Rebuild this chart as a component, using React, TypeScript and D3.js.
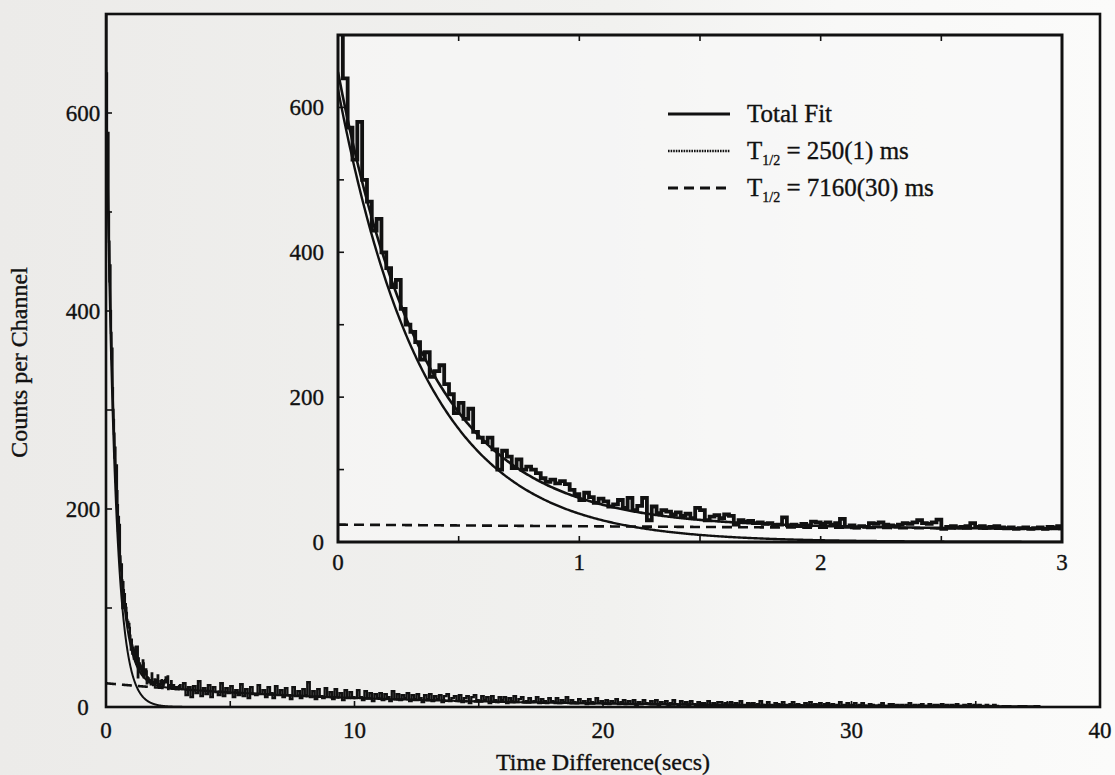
import React from 'react';
import * as d3 from 'd3';

// Decay-time histogram: counts per 20 ms channel, 0 – 3 s
const binWidth = 0.02;
const insetCounts = [
  705, 640, 572, 528, 580, 500, 470, 430, 446, 400,
  378, 352, 362, 322, 300, 290, 276, 252, 262, 228,
  236, 244, 218, 204, 178, 192, 170, 184, 152, 144,
  138, 144, 128, 100, 126, 118, 102, 114, 100, 104,
  100, 95, 88, 83, 86, 81, 84, 80, 72, 66,
  58, 68, 62, 54, 60, 56, 49, 52, 58, 47,
  61, 44, 50, 61, 30, 49, 40, 44, 42, 38,
  41, 36, 39, 33, 47, 44, 30, 35, 37, 33,
  38, 36, 24, 30, 28, 29, 26, 27, 25, 26,
  23, 24, 34, 23, 24, 22, 25, 23, 28, 27,
  25, 27, 24, 26, 32, 21, 23, 20, 22, 21,
  26, 25, 27, 24, 23, 22, 24, 26, 25, 27,
  30, 26, 25, 27, 31, 18, 21, 22, 20, 21,
  22, 26, 21, 22, 20, 21, 22, 20, 19, 20,
  18, 19, 20, 18, 19, 20, 18, 21, 20, 22,
];

// Long tail of the same spectrum, sampled every 0.1 s from 3 s to 36 s
const tailStart = 3;
const tailStep = 0.1;
const tailCounts = [
  18, 24, 12, 20, 10, 21, 14, 26, 11, 19,
  13, 22, 10, 20, 15, 12, 24, 11, 19, 14,
  21, 10, 17, 12, 23, 11, 18, 9, 20, 13,
  12, 22, 13, 17, 10, 20, 14, 9, 21, 12,
  17, 10, 19, 12, 8, 20, 11, 16, 9, 18,
  12, 25, 10, 16, 8, 18, 11, 9, 19, 10,
  15, 8, 18, 10, 14, 7, 17, 9, 15, 10,
  9, 17, 10, 7, 16, 9, 14, 6, 13, 9,
  14, 7, 13, 10, 6, 16, 8, 13, 7, 12,
  9, 14, 6, 12, 8, 13, 9, 5, 12, 8,
  13, 6, 11, 8, 12, 5, 11, 13, 6, 9,
  11, 6, 12, 5, 9, 11, 4, 10, 12, 7,
  6, 11, 7, 10, 4, 11, 7, 5, 10, 7,
  10, 4, 9, 6, 11, 5, 8, 10, 5, 6,
  9, 5, 6, 10, 4, 8, 6, 4, 9, 6,
  5, 9, 4, 7, 5, 10, 4, 7, 5, 4,
  8, 4, 6, 3, 8, 5, 4, 9, 4, 6,
  4, 7, 3, 6, 4, 8, 3, 5, 7, 3,
  6, 3, 7, 2, 5, 3, 7, 4, 3, 6,
  3, 7, 2, 5, 3, 6, 2, 4, 7, 3,
  2, 6, 3, 5, 2, 6, 3, 2, 5, 4,
  4, 2, 6, 2, 4, 1, 5, 5, 2, 4,
  2, 5, 1, 4, 2, 6, 2, 1, 4, 3,
  4, 1, 3, 6, 2, 1, 5, 2, 1, 4,
  3, 1, 5, 2, 1, 3, 5, 1, 3, 1,
  1, 4, 2, 5, 1, 3, 1, 4, 0, 3,
  4, 1, 3, 0, 2, 5, 1, 2, 4, 0,
  2, 4, 0, 2, 4, 1, 0, 3, 2, 1,
  0, 2, 4, 1, 0, 3, 3, 0, 2, 1,
  2, 0, 2, 4, 0, 2, 1, 2, 3, 0,
  1, 3, 0, 2, 2, 0, 3, 1, 2, 0,
  2, 0, 3, 1, 0, 2, 1, 3, 0, 2,
  0, 2, 1, 0, 2, 1, 0, 2, 1, 0,
];

// Two-component fit (half-lives in seconds, amplitudes in counts/channel)
const shortHalfLife = 0.25;
const longHalfLife = 7.16;
const shortAmp = 625;
const longAmp = 24;
const fitEnd = 37.6;

const mainXTicks = [0, 10, 20, 30, 40];
const mainYTicks = [0, 200, 400, 600];
const insetXTicks = [0, 1, 2, 3];
const insetYTicks = [0, 200, 400, 600];
const legendEntries = [
  { key: 'total', label: 'Total Fit', sub: '', rest: '' },
  { key: 'short', label: 'T', sub: '1/2', rest: ' = 250(1) ms' },
  { key: 'long', label: 'T', sub: '1/2', rest: ' = 7160(30) ms' },
];

const FONT = "Liberation Serif, serif";
const INK = '#111';

const shortComp = (t: number) => shortAmp * Math.pow(2, -t / shortHalfLife);
const longComp = (t: number) => longAmp * Math.pow(2, -t / longHalfLife);
const totalFit = (t: number) => shortComp(t) + longComp(t);

const lineStyles: Record<string, { w: number; dash?: string }> = {
  total: { w: 2.6 },
  short: { w: 2.4, dash: '1.6 1' },
  long: { w: 2.6, dash: '10 6' },
};

type Pt = [number, number];

function histPoints(): Pt[] {
  const pts: Pt[] = insetCounts.map((v, i) => [i * binWidth, v]);
  pts.push([insetCounts.length * binWidth, insetCounts[insetCounts.length - 1]]);
  return pts;
}

function fullPoints(): Pt[] {
  const pts: Pt[] = insetCounts.map((v, i) => [i * binWidth, v]);
  tailCounts.forEach((v, i) => pts.push([tailStart + i * tailStep, v]));
  pts.push([tailStart + tailCounts.length * tailStep, tailCounts[tailCounts.length - 1]]);
  return pts;
}

export default function App() {
  const W = 1115;
  const H = 775;
  const main = { l: 106, r: 1100, t: 14, b: 707 };
  const inset = { l: 338, r: 1062, t: 35, b: 542 };

  const xM = d3.scaleLinear().domain([0, 40]).range([main.l, main.r]);
  const yM = d3.scaleLinear().domain([0, 700]).range([main.b, main.t]);
  const xI = d3.scaleLinear().domain([0, 3]).range([inset.l, inset.r]);
  const yI = d3.scaleLinear().domain([0, 700]).range([inset.b, inset.t]);

  const stepM = d3.line<Pt>().x(d => xM(d[0])).y(d => yM(d[1])).curve(d3.curveStepAfter);
  const stepI = d3.line<Pt>().x(d => xI(d[0])).y(d => yI(d[1])).curve(d3.curveStepAfter);

  const fitGridMain = d3.range(0, fitEnd + 1e-9, 0.01);
  const fitGridInset = d3.range(0, 3 + 1e-9, 0.005);

  const curve = (
    xs: d3.ScaleLinear<number, number>,
    ys: d3.ScaleLinear<number, number>,
    grid: number[],
    f: (t: number) => number
  ) =>
    d3
      .line<number>()
      .x(t => xs(t))
      .y(t => ys(Math.min(f(t), 700)))(grid) || '';

  const fits = [
    { key: 'long', f: longComp },
    { key: 'short', f: shortComp },
    { key: 'total', f: totalFit },
  ];

  const mainMinorX = d3.range(0, 41, 5);
  const mainMinorY = d3.range(0, 701, 100);
  const insetMinorX = d3.range(0, 3.001, 0.5);
  const insetMinorY = d3.range(0, 701, 100);

  const legendX0 = 668;
  const legendX1 = 730;
  const legendTextX = 747;
  const legendRows = [114, 151, 188];

  const textProps = { fill: INK, stroke: INK, strokeWidth: 0.35 };

  return (
    <svg
      width={W}
      height={H}
      viewBox={`0 0 ${W} ${H}`}
      style={{ position: 'absolute', left: 0, top: 0, display: 'block', fontFamily: FONT }}
    >
      <defs>
        <linearGradient id="paper" x1="0" y1="0" x2="1" y2="0">
          <stop offset="0" stopColor="#ecebe9" />
          <stop offset="0.55" stopColor="#f1f1ef" />
          <stop offset="0.75" stopColor="#f8f8f7" />
          <stop offset="1" stopColor="#fbfbfa" />
        </linearGradient>
        <clipPath id="mainClip">
          <rect x={main.l} y={main.t} width={main.r - main.l} height={main.b - main.t} />
        </clipPath>
        <clipPath id="insetClip">
          <rect x={inset.l} y={inset.t} width={inset.r - inset.l} height={inset.b - inset.t} />
        </clipPath>
      </defs>
      <rect x={0} y={0} width={W} height={H} fill="url(#paper)" />

      {/* ---------- main panel ---------- */}
      <g clipPath="url(#mainClip)">
        {fits.map(f => (
          <path
            key={f.key}
            d={curve(xM, yM, fitGridMain, f.f)}
            fill="none"
            stroke={INK}
            strokeWidth={f.key === 'long' ? 2.6 : 2}
            strokeDasharray={f.key === 'long' ? '10 6' : undefined}
          />
        ))}
        <path d={stepM(fullPoints()) || ''} fill="none" stroke={INK} strokeWidth={2.3} strokeLinejoin="miter" />
      </g>
      <rect
        x={main.l}
        y={main.t}
        width={main.r - main.l}
        height={main.b - main.t}
        fill="none"
        stroke={INK}
        strokeWidth={2.6}
      />
      {mainMinorX.map(t => (
        <line key={'mx' + t} x1={xM(t)} x2={xM(t)} y1={main.b} y2={main.b - 6} stroke={INK} strokeWidth={1.6} />
      ))}
      {mainMinorY.map(v => (
        <line key={'my' + v} x1={main.l} x2={main.l + 6} y1={yM(v)} y2={yM(v)} stroke={INK} strokeWidth={1.6} />
      ))}
      {mainXTicks.map(t => (
        <text key={'mxt' + t} x={xM(t)} y={738} fontSize={23} textAnchor="middle" {...textProps}>
          {t}
        </text>
      ))}
      {mainYTicks.map(v => (
        <text key={'myt' + v} x={83} y={yM(v) + 8} fontSize={23} textAnchor="middle" {...textProps}>
          {v}
        </text>
      ))}
      <text x={xM(20)} y={770} fontSize={24} textAnchor="middle" {...textProps}>
        Time Difference(secs)
      </text>
      <text
        transform={`translate(27, ${(main.t + main.b) / 2 + 2}) rotate(-90)`}
        fontSize={24}
        textAnchor="middle"
        {...textProps}
      >
        Counts per Channel
      </text>

      {/* ---------- inset panel: first 3 s ---------- */}
      <rect
        x={inset.l}
        y={inset.t}
        width={inset.r - inset.l}
        height={inset.b - inset.t}
        fill="#f9f9f8"
        opacity={0.6}
      />
      <g clipPath="url(#insetClip)">
        {fits.map(f => (
          <path
            key={f.key}
            d={curve(xI, yI, fitGridInset, f.f)}
            fill="none"
            stroke={INK}
            strokeWidth={lineStyles[f.key].w}
            strokeDasharray={f.key === 'long' ? '10 6' : undefined}
          />
        ))}
        <path d={stepI(histPoints()) || ''} fill="none" stroke={INK} strokeWidth={3.8} strokeLinejoin="miter" />
      </g>
      <rect
        x={inset.l}
        y={inset.t}
        width={inset.r - inset.l}
        height={inset.b - inset.t}
        fill="none"
        stroke={INK}
        strokeWidth={3}
      />
      {insetMinorX.map(t => (
        <g key={'ix' + t}>
          <line x1={xI(t)} x2={xI(t)} y1={inset.b} y2={inset.b - 6} stroke={INK} strokeWidth={1.6} />
          <line x1={xI(t)} x2={xI(t)} y1={inset.t} y2={inset.t + 6} stroke={INK} strokeWidth={1.6} />
        </g>
      ))}
      {insetMinorY.map(v => (
        <line key={'iy' + v} x1={inset.l} x2={inset.l + 6} y1={yI(v)} y2={yI(v)} stroke={INK} strokeWidth={1.6} />
      ))}
      {insetXTicks.map(t => (
        <text key={'ixt' + t} x={xI(t)} y={570} fontSize={23} textAnchor="middle" {...textProps}>
          {t}
        </text>
      ))}
      {insetYTicks.map(v => (
        <text key={'iyt' + v} x={inset.l - 14} y={yI(v) + 8} fontSize={23} textAnchor="end" {...textProps}>
          {v}
        </text>
      ))}

      {/* legend */}
      {legendEntries.map((e, i) => (
        <g key={e.key}>
          <line
            x1={legendX0}
            x2={legendX1}
            y1={legendRows[i]}
            y2={legendRows[i]}
            stroke={INK}
            strokeWidth={lineStyles[e.key].w + (e.key === 'short' ? 0 : 0.4)}
            strokeDasharray={lineStyles[e.key].dash}
          />
          <text x={legendTextX} y={legendRows[i] + 8} fontSize={25} {...textProps}>
            {e.label}
            {e.sub && (
              <tspan fontSize={14} dy={6}>
                {e.sub}
              </tspan>
            )}
            {e.rest && <tspan dy={e.sub ? -6 : 0}>{e.rest}</tspan>}
          </text>
        </g>
      ))}
    </svg>
  );
}
